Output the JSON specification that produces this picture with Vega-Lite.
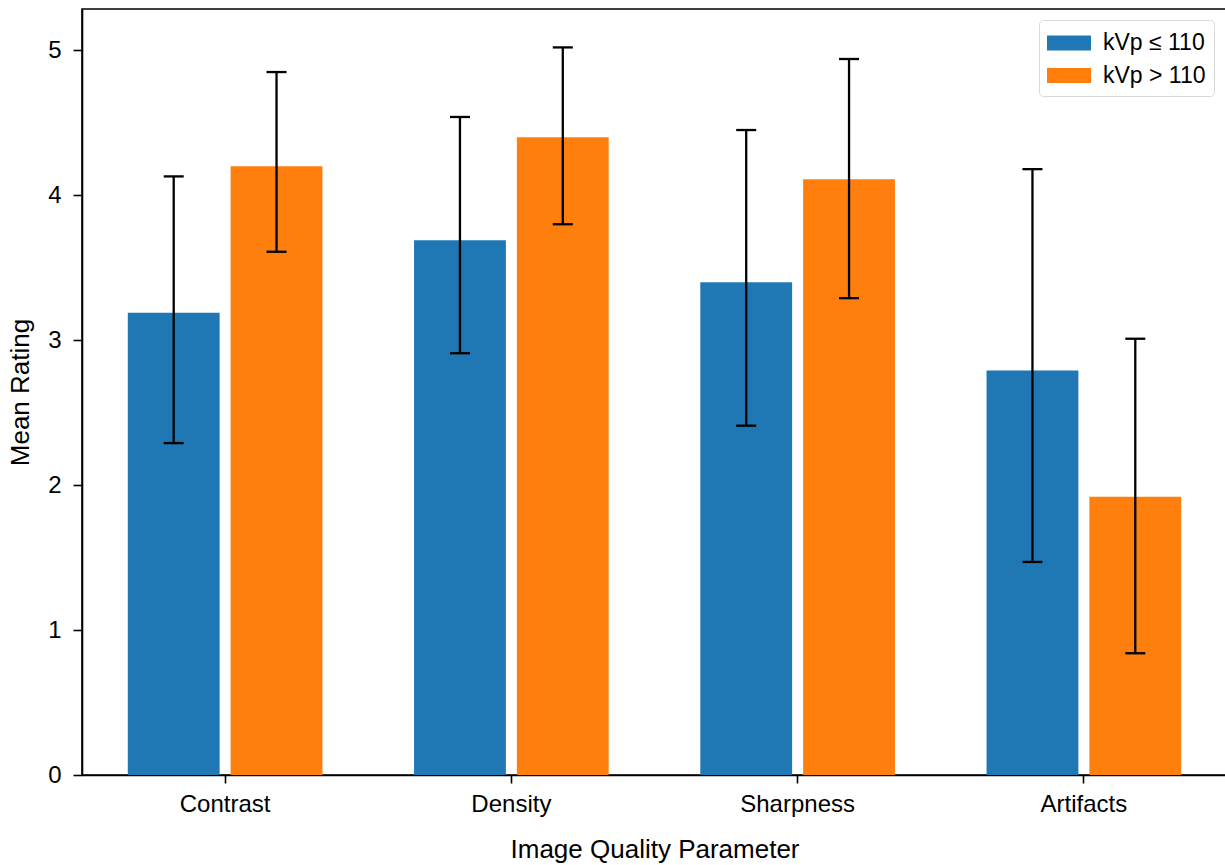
{
  "$schema": "https://vega.github.io/schema/vega-lite/v6.json",
  "autosize": {"type": "none"},
  "padding": {"left": 82, "top": 9, "right": 0, "bottom": 90},
  "width": 1145,
  "height": 766,
  "background": "white",
  "data": {
    "values": [
      {"param": "Contrast", "group": "kVp ≤ 110", "mean": 3.19, "lo": 2.29, "hi": 4.13},
      {"param": "Contrast", "group": "kVp > 110", "mean": 4.2, "lo": 3.61, "hi": 4.85},
      {"param": "Density", "group": "kVp ≤ 110", "mean": 3.69, "lo": 2.91, "hi": 4.54},
      {"param": "Density", "group": "kVp > 110", "mean": 4.4, "lo": 3.8, "hi": 5.02},
      {"param": "Sharpness", "group": "kVp ≤ 110", "mean": 3.4, "lo": 2.41, "hi": 4.45},
      {"param": "Sharpness", "group": "kVp > 110", "mean": 4.11, "lo": 3.29, "hi": 4.94},
      {"param": "Artifacts", "group": "kVp ≤ 110", "mean": 2.79, "lo": 1.47, "hi": 4.18},
      {"param": "Artifacts", "group": "kVp > 110", "mean": 1.92, "lo": 0.84, "hi": 3.01}
    ]
  },
  "encoding": {
    "x": {
      "field": "param",
      "type": "nominal",
      "sort": ["Contrast", "Density", "Sharpness", "Artifacts"],
      "scale": {"paddingInner": 0.32, "paddingOuter": 0.16},
      "title": "Image Quality Parameter"
    },
    "xOffset": {
      "field": "group",
      "type": "nominal",
      "sort": ["kVp ≤ 110", "kVp > 110"],
      "scale": {"paddingInner": 0.107, "paddingOuter": 0}
    }
  },
  "layer": [
    {
      "mark": {"type": "bar"},
      "encoding": {
        "y": {
          "field": "mean",
          "type": "quantitative",
          "scale": {"domain": [0, 5.285], "nice": false, "zero": true},
          "axis": {"values": [0, 1, 2, 3, 4, 5], "format": "d"},
          "title": "Mean Rating"
        },
        "color": {
          "field": "group",
          "type": "nominal",
          "sort": ["kVp ≤ 110", "kVp > 110"],
          "scale": {"domain": ["kVp ≤ 110", "kVp > 110"], "range": ["#1f77b4", "#ff7f0e"]},
          "legend": {
            "title": null,
            "orient": "none",
            "legendX": 957,
            "legendY": 11,
            "symbolType": "M-1,-0.5H1.933V0.5H-1Z",
            "symbolSize": 900,
            "symbolStrokeWidth": 0,
            "symbolOpacity": 1,
            "labelOffset": 26,
            "labelFontSize": 23,
            "labelFont": "Liberation Sans",
            "labelColor": "black",
            "rowPadding": 5.5,
            "padding": 8,
            "strokeColor": "#d9d9d9",
            "fillColor": "white",
            "cornerRadius": 4
          }
        }
      }
    },
    {
      "mark": {"type": "rule", "color": "black", "strokeWidth": 2.3},
      "encoding": {
        "y": {"field": "lo", "type": "quantitative", "title": "Mean Rating"},
        "y2": {"field": "hi"}
      }
    },
    {
      "mark": {"type": "tick", "color": "black", "size": 20, "thickness": 2.3, "opacity": 1},
      "encoding": {
        "y": {"field": "lo", "type": "quantitative", "title": "Mean Rating"}
      }
    },
    {
      "mark": {"type": "tick", "color": "black", "size": 20, "thickness": 2.3, "opacity": 1},
      "encoding": {
        "y": {"field": "hi", "type": "quantitative", "title": "Mean Rating"}
      }
    }
  ],
  "config": {
    "view": {"stroke": "black", "strokeWidth": 1.6},
    "axis": {
      "domainColor": "black",
      "tickColor": "black",
      "labelColor": "black",
      "titleColor": "black",
      "labelFont": "Liberation Sans",
      "titleFont": "Liberation Sans",
      "titleFontWeight": "normal",
      "domainWidth": 1.6,
      "tickWidth": 1.6,
      "grid": false
    },
    "axisY": {
      "tickSize": 9,
      "labelPadding": 12,
      "labelFontSize": 24,
      "titleFontSize": 26,
      "titlePadding": 14
    },
    "axisX": {
      "tickSize": 8,
      "labelPadding": 9,
      "labelFontSize": 24,
      "labelAngle": 0,
      "titleFontSize": 26,
      "titlePadding": 20
    }
  }
}
